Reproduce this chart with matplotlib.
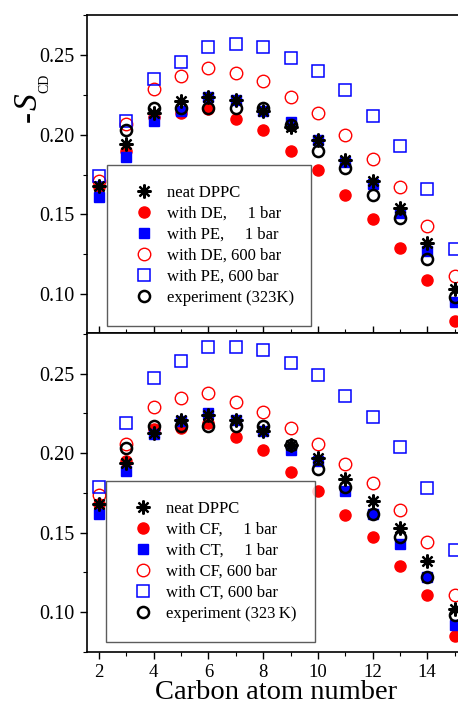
import matplotlib
matplotlib.use('Agg')
import matplotlib.pyplot as plt
import numpy as np

plt.rcParams['font.family'] = ['Liberation Serif', 'DejaVu Serif']

carbon = np.arange(2, 16)
carbon_exp = np.arange(3, 16)

# top panel (DE / PE)
neat_top = [0.168, 0.194, 0.214, 0.221, 0.224, 0.222, 0.215, 0.205, 0.197, 0.184, 0.171, 0.154, 0.132, 0.103]
de1 = [0.167, 0.190, 0.211, 0.214, 0.216, 0.210, 0.203, 0.190, 0.178, 0.162, 0.147, 0.129, 0.109, 0.083]
pe1 = [0.161, 0.186, 0.209, 0.215, 0.224, 0.222, 0.215, 0.208, 0.197, 0.183, 0.169, 0.151, 0.127, 0.095]
de600 = [0.171, 0.207, 0.229, 0.237, 0.242, 0.239, 0.234, 0.224, 0.214, 0.200, 0.185, 0.167, 0.143, 0.111]
pe600 = [0.174, 0.209, 0.235, 0.246, 0.255, 0.257, 0.255, 0.248, 0.240, 0.228, 0.212, 0.193, 0.166, 0.128]
exp_top = [0.203, 0.217, 0.217, 0.217, 0.217, 0.217, 0.206, 0.190, 0.179, 0.162, 0.148, 0.122, 0.098]

# bottom panel (CF / CT)
neat_bot = [0.168, 0.194, 0.213, 0.221, 0.224, 0.221, 0.214, 0.205, 0.197, 0.184, 0.170, 0.153, 0.132, 0.102]
cf1 = [0.168, 0.195, 0.215, 0.216, 0.219, 0.210, 0.202, 0.188, 0.176, 0.161, 0.147, 0.129, 0.111, 0.085]
ct1 = [0.162, 0.189, 0.212, 0.220, 0.225, 0.221, 0.214, 0.202, 0.195, 0.176, 0.162, 0.143, 0.122, 0.092]
cf600 = [0.174, 0.206, 0.229, 0.235, 0.238, 0.232, 0.226, 0.216, 0.206, 0.193, 0.181, 0.164, 0.144, 0.111]
ct600 = [0.179, 0.219, 0.247, 0.258, 0.267, 0.267, 0.265, 0.257, 0.249, 0.236, 0.223, 0.204, 0.178, 0.139]
exp_bot = [0.203, 0.217, 0.217, 0.217, 0.217, 0.217, 0.205, 0.190, 0.179, 0.162, 0.147, 0.122, 0.098]

W, H = 458, 704
fig = plt.figure(figsize=(W / 100, H / 100), dpi=100)
ax1 = fig.add_axes([0.1889, 0.527, 0.8395, 0.4517])
ax2 = fig.add_axes([0.1889, 0.0739, 0.8395, 0.4531])

def draw(ax, neat, f1, s1, f600, s600, expt, n1, n2, ylim):
    ax.plot(carbon, f1, 'o', color='red', ms=8, ls='none',
            label='with %s,     1 bar' % n1)
    ax.plot(carbon, s1, 's', color='blue', ms=7.5, ls='none',
            label='with %s,     1 bar' % n2)
    ax.plot(carbon, f600, 'o', mfc='none', mec='red', mew=1.0, ms=9, ls='none',
            label='with %s, 600 bar' % n1)
    ax.plot(carbon, s600, 's', mfc='none', mec='blue', mew=1.1, ms=8, ls='none',
            label='with %s, 600 bar' % n2)
    ax.plot(carbon, neat, marker=(8, 2, 0), color='black', mew=1.6, ms=10, ls='none',
            label='neat DPPC')
    ax.plot(carbon_exp, expt, 'o', mfc='none', mec='black', mew=1.8, ms=8, ls='none',
            label='experiment (323K)')
    ax.set_yticks([0.10, 0.15, 0.20, 0.25])
    ax.set_yticks(np.arange(0.075, 0.28, 0.025), minor=True)
    ax.set_xticks(np.arange(2, 16, 2))
    ax.set_xticks(np.arange(1, 16, 1), minor=True)
    ax.set_xlim(1.54, 15.6)
    ax.set_ylim(*ylim)
    ax.tick_params(axis='y', which='major', labelsize=14.5, length=5, width=1)
    ax.tick_params(axis='x', which='major', labelsize=13.5, length=5, width=1)
    ax.tick_params(axis='both', which='minor', length=3, width=0.8)
    for s in ax.spines.values():
        s.set_linewidth(1.2)
    h, l = ax.get_legend_handles_labels()
    order = [4, 0, 1, 2, 3, 5]
    return [h[i] for i in order], [l[i] for i in order]

leg_kw = dict(loc='lower left', mode='expand', fontsize=12, frameon=True,
              fancybox=False, edgecolor='#333333', handletextpad=0.4,
              borderpad=1.2, labelspacing=0.3, handlelength=2.0,
              borderaxespad=0)

h, l = draw(ax1, neat_top, de1, pe1, de600, pe600, exp_top, 'DE', 'PE', (0.0755, 0.2753))
ax1.tick_params(axis='x', which='both', labelbottom=False, direction='in')
leg = ax1.legend(h, l, bbox_to_anchor=(0.054, 0.022, 0.531, 0.497), **leg_kw)
leg.get_frame().set_linewidth(1.0)

h, l = draw(ax2, neat_bot, cf1, ct1, cf600, ct600, exp_bot, 'CF', 'CT', (0.075, 0.2756))
l[5] = 'experiment (323\u2009K)'
leg = ax2.legend(h, l, bbox_to_anchor=(0.051, 0.031, 0.544, 0.5), **leg_kw)
leg.get_frame().set_linewidth(1.0)

# y label: -S with a small CD subscript
fig.text(37 / W, 1 - 122 / H, '-', rotation=90, rotation_mode='anchor',
         ha='left', va='baseline', fontsize=24, fontweight='bold')
fig.text(37 / W, 1 - 110 / H, 'S', rotation=90, rotation_mode='anchor',
         ha='left', va='baseline', fontsize=24, style='italic')
fig.text(48 / W, 1 - 93 / H, 'CD', rotation=90, rotation_mode='anchor',
         ha='left', va='baseline', fontsize=10)
fig.text(276 / W, 5 / H, 'Carbon atom number', ha='center', va='baseline',
         fontsize=20.5)

fig.savefig('out.png', dpi=100)
